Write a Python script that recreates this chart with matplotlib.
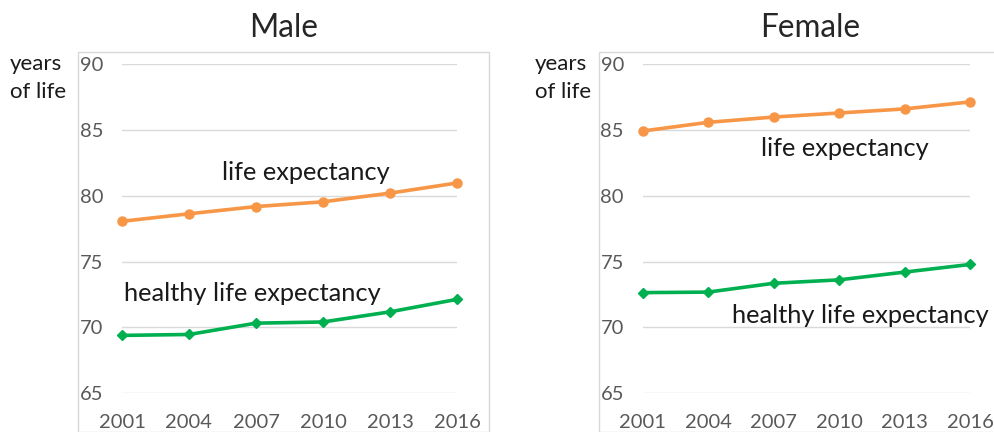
import matplotlib
matplotlib.use("Agg")
import matplotlib.pyplot as plt
from matplotlib.patches import Rectangle

plt.rcParams['font.family'] = ['Lato', 'DejaVu Sans']

years = [2001, 2004, 2007, 2010, 2013, 2016]
male_le = [78.07, 78.64, 79.19, 79.55, 80.21, 80.98]
male_hle = [69.40, 69.47, 70.33, 70.42, 71.19, 72.14]
female_le = [84.93, 85.59, 85.99, 86.30, 86.61, 87.14]
female_hle = [72.65, 72.69, 73.36, 73.62, 74.21, 74.79]
yticks = [65, 70, 75, 80, 85, 90]
titles = ["Male", "Female"]
ylabel = "years\nof life"
le_label = "life expectancy"
hle_label = "healthy life expectancy"

W, H = 995, 432
fig = plt.figure(figsize=(W / 100, H / 100), dpi=100)

ORANGE = '#F79646'
GREEN = '#00B050'
TICK = '#595959'
GRID = '#D9D9D9'

def fx(px):
    return px / W

def fy(py):
    return 1 - py / H

panels = [
    dict(le=male_le, hle=male_hle, left=122, right=457, box=(78, 52, 489),
         ylab_x=10, title_x=284,
         le_pos=(2005.5, 81.8), hle_pos=(2001.1, 72.6)),
    dict(le=female_le, hle=female_hle, left=642.7, right=970, box=(599, 52, 1000),
         ylab_x=535, title_x=810,
         le_pos=(2006.4, 83.6), hle_pos=(2005.1, 70.9)),
]

top_px, bot_px = 64.3, 393.3
for i, p in enumerate(panels):
    # chart-area border
    bx0, by0, bx1 = p['box']
    fig.patches.append(Rectangle((fx(bx0), 0), fx(bx1) - fx(bx0), fy(by0),
                                 transform=fig.transFigure, fill=False,
                                 edgecolor=GRID, linewidth=1.0, clip_on=False))
    ax = fig.add_axes([fx(p['left']), fy(bot_px), fx(p['right'] - p['left']),
                       (bot_px - top_px) / H])
    ax.set_xlim(2001, 2016)
    ax.set_ylim(65, 90)
    ax.set_yticks(yticks)
    ax.set_xticks(years)
    ax.set_xticklabels([str(y) for y in years])
    for s in ax.spines.values():
        s.set_visible(False)
    ax.grid(axis='y', color=GRID, linewidth=1.0)
    ax.set_axisbelow(True)
    ax.tick_params(axis='both', length=0, labelsize=14.5, colors=TICK)
    ax.tick_params(axis='y', pad=13.5)
    ax.tick_params(axis='x', pad=15)
    ax.patch.set_alpha(0)

    ax.plot(years, p['le'], color=ORANGE, lw=2.6, marker='o', ms=6.5,
            clip_on=False, zorder=3)
    ax.plot(years, p['hle'], color=GREEN, lw=2.6, marker='D', ms=5.5,
            clip_on=False, zorder=3)
    ax.text(p['le_pos'][0], p['le_pos'][1], le_label, fontsize=18.3,
            color='#1a1a1a', ha='left', va='center')
    ax.text(p['hle_pos'][0], p['hle_pos'][1], hle_label, fontsize=18.3,
            color='#1a1a1a', ha='left', va='center')

    fig.text(fx(p['title_x']), fy(37), titles[i], fontsize=22.7,
             color='#262626', ha='center', va='baseline')
    fig.text(fx(p['ylab_x']), fy(78), ylabel, fontsize=16, color='#1a1a1a',
             ha='left', va='center', linespacing=1.5)

fig.savefig('out.png', dpi=100)
